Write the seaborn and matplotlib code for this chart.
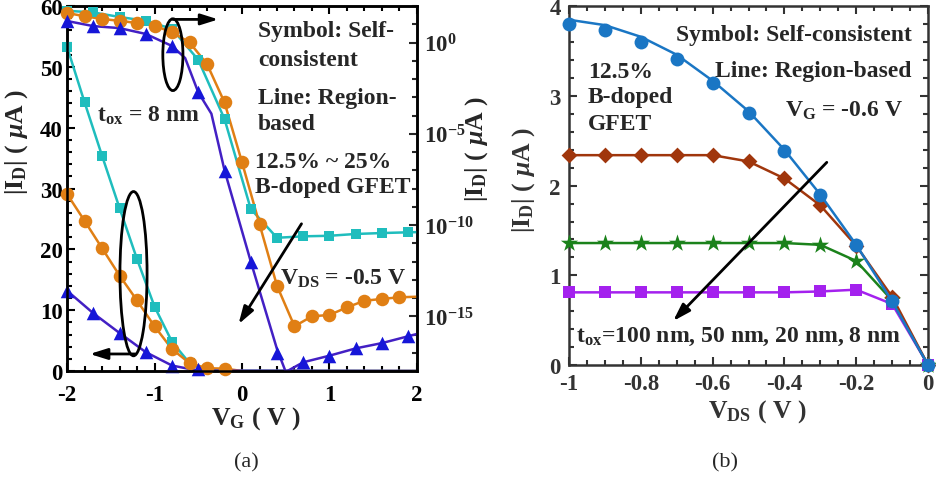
import numpy as np
import matplotlib
matplotlib.use('Agg')
import matplotlib.pyplot as plt
import seaborn as sns
from matplotlib.patches import Ellipse
from matplotlib.ticker import MultipleLocator, FixedLocator, FuncFormatter, NullFormatter

# ── (a) V_G sweep, V_DS = -0.5 V ──────────────────────────────
# linear scale (left axis, uA)
vg_cyan_lin = [-2.0, -1.8, -1.6, -1.4, -1.2, -1.0, -0.8, -0.6]
id_cyan_lin = [53.3, 44.2, 35.4, 26.8, 18.4, 10.6, 4.8, 1.3]
vg_cyan_lin_line = [-2.0, -1.8, -1.6, -1.4, -1.2, -1.0, -0.8, -0.6, -0.4, -0.2, 2.0]
id_cyan_lin_line = [53.3, 44.2, 35.4, 26.8, 18.4, 10.6, 4.8, 1.3, 0.3, 0.05, 0.0]

vg_orange_lin = [-2.0, -1.8, -1.6, -1.4, -1.2, -1.0, -0.8, -0.6, -0.4, -0.2]
id_orange_lin = [29.1, 24.7, 20.2, 15.7, 11.6, 7.35, 3.6, 1.3, 0.45, 0.4]
vg_orange_lin_line = [-2.0, -1.8, -1.6, -1.4, -1.2, -1.0, -0.8, -0.6, -0.4, -0.2, 0.0, 2.0]
id_orange_lin_line = [29.1, 24.7, 20.2, 15.7, 11.6, 7.35, 3.6, 1.3, 0.45, 0.4, 0.0, 0.0]

vg_blue_lin = [-2.0, -1.7, -1.4, -1.1, -0.8, -0.5]
id_blue_lin = [13.2, 9.5, 6.25, 3.1, 0.9, 0.3]
vg_blue_lin_line = [-2.0, -1.7, -1.4, -1.1, -0.8, -0.5, 2.0]
id_blue_lin_line = [13.2, 9.5, 6.25, 3.1, 0.9, 0.05, 0.0]

# log scale (right axis), values given as log10(|I_D| / uA)
vg_log = [-2.0, -1.7, -1.4, -1.1, -0.8, -0.5, -0.2, 0.1, 0.4, 0.7, 1.0, 1.3, 1.6, 1.9]
cyan_log_exp = [1.74, 1.65, 1.40, 1.19, 0.75, -0.95, -4.19, -9.12, -10.70, -10.62,
                -10.59, -10.49, -10.44, -10.40]
blue_log_exp = [1.18, 0.90, 0.79, 0.47, -0.19, -2.73, -7.04, -12.0, -17.0, -17.52,
                -17.16, -16.76, -16.47, -16.07]
vg_cyan_log_line = vg_log + [2.0]
cyan_log_line_exp = cyan_log_exp + [-10.39]
vg_blue_log_line = [-2.0, -1.7, -1.4, -1.1, -0.8, -0.65, -0.5, -0.35, -0.2, 0.1, 0.4,
                    0.5, 0.7, 1.0, 1.3, 1.6, 2.0]
blue_log_line_exp = [1.18, 0.90, 0.79, 0.47, -0.19, -0.85, -2.73, -3.9, -7.0, -12.0,
                     -16.8, -18.05, -17.52, -17.16, -16.76, -16.47, -15.97]

vg_orange_log = [-2.0, -1.8, -1.6, -1.4, -1.2, -1.0, -0.8, -0.6, -0.4, -0.2,
                 0.0, 0.2, 0.4, 0.6, 0.8, 1.0, 1.2, 1.4, 1.6, 1.8]
orange_log_exp = [1.62, 1.44, 1.29, 1.19, 1.07, 0.92, 0.56, 0.01, -1.18, -3.28,
                  -6.56, -9.95, -13.33, -15.55, -15.0, -14.93, -14.51, -14.15, -14.05, -13.96]
vg_orange_log_line = vg_orange_log + [2.0]
orange_log_line_exp = orange_log_exp + [-13.93]

# ── (b) V_DS sweep, V_G = -0.6 V ──────────────────────────────
vds = [-1.0, -0.9, -0.8, -0.7, -0.6, -0.5, -0.4, -0.3, -0.2, -0.1, 0.0]
id_8nm = [3.80, 3.74, 3.60, 3.41, 3.14, 2.81, 2.39, 1.90, 1.34, 0.71, 0.0]
id_8nm_line = [3.85, 3.79, 3.66, 3.46, 3.17, 2.83, 2.40, 1.90, 1.34, 0.71, 0.0]
id_20nm = [2.34, 2.34, 2.34, 2.34, 2.34, 2.27, 2.08, 1.78, 1.33, 0.76, 0.0]
id_50nm = [1.36, 1.36, 1.36, 1.36, 1.36, 1.36, 1.36, 1.34, 1.16, 0.72, 0.0]
id_100nm = [0.81, 0.81, 0.81, 0.81, 0.81, 0.81, 0.81, 0.82, 0.84, 0.68, 0.0]

C_CYAN = '#1fbdbd'
C_ORANGE = '#e07f14'
C_BLUE_M = '#1616d8'
C_BLUE_L = '#4320c4'
C_B_BLUE = '#1a76c4'
C_B_BROWN = '#a0360c'
C_B_GREEN = '#1b821b'
C_B_PURPLE = '#a421ee'

sns.set_theme(style='ticks')
plt.rcParams['font.family'] = ['Liberation Serif', 'DejaVu Serif']
plt.rcParams['font.weight'] = 'bold'
plt.rcParams['mathtext.fontset'] = 'custom'
plt.rcParams['mathtext.rm'] = 'Liberation Serif:bold'
plt.rcParams['mathtext.bf'] = 'Liberation Serif:bold'
plt.rcParams['mathtext.it'] = 'Liberation Serif:italic'
plt.rcParams['axes.unicode_minus'] = False

FS_TXT = 17
FS_LAB = 18.5
FS_TICK = 16.5
YLABEL = r'$|\mathrm{I}_{\mathrm{D}}|\ \mathrm{(}\ \mu\mathrm{A}\ \mathrm{)}$'
XLABEL_A = r'$\mathrm{V}_{\mathrm{G}}\ \mathrm{(}\ \mathrm{V}\ \mathrm{)}$'
XLABEL_B = r'$\mathrm{V}_{\mathrm{DS}}\ \mathrm{(}\ \mathrm{V}\ \mathrm{)}$'


def line(ax, x, y, color, lw=1.8, z=2):
    sns.lineplot(x=x, y=y, ax=ax, color=color, lw=lw, zorder=z,
                 legend=False, sort=False, errorbar=None)


def marks(ax, x, y, color, marker, s, z=3):
    sns.scatterplot(x=x, y=y, ax=ax, color=color, marker=marker, s=s,
                    linewidth=0, zorder=z, legend=False, clip_on=False)


fig = plt.figure(figsize=(9.36, 4.81), dpi=100)
ax = fig.add_axes([0.0716, 0.2266, 0.3739, 0.7588])
ax2 = ax.twinx()
axb = fig.add_axes([0.6079, 0.2391, 0.3836, 0.7457])

# ── panel (a) ─────────────────────────────────────────────────
ax2.set_yscale('log')

line(ax, vg_cyan_lin_line, id_cyan_lin_line, C_CYAN)
marks(ax, vg_cyan_lin, id_cyan_lin, C_CYAN, 's', 50)
line(ax, vg_orange_lin_line, id_orange_lin_line, C_ORANGE)
marks(ax, vg_orange_lin, id_orange_lin, C_ORANGE, 'o', 95)
line(ax, vg_blue_lin_line, id_blue_lin_line, C_BLUE_L)
marks(ax, vg_blue_lin, id_blue_lin, C_BLUE_M, '^', 95)

line(ax2, vg_cyan_log_line, 10.0 ** np.array(cyan_log_line_exp), C_CYAN)
marks(ax2, vg_log, 10.0 ** np.array(cyan_log_exp), C_CYAN, 's', 50)
line(ax2, vg_orange_log_line, 10.0 ** np.array(orange_log_line_exp), C_ORANGE)
marks(ax2, vg_orange_log, 10.0 ** np.array(orange_log_exp), C_ORANGE, 'o', 95)
line(ax2, vg_blue_log_line, 10.0 ** np.array(blue_log_line_exp), C_BLUE_L)
marks(ax2, vg_log, 10.0 ** np.array(blue_log_exp), C_BLUE_M, '^', 95)

# ellipses + arrows (drawn in left-axis data coords, on top)
for (cx, cy, w, h) in [(-0.79, 52.0, 0.23, 11.8), (-1.24, 16.0, 0.31, 27.0)]:
    e = Ellipse((cx, cy), w, h, transform=ax.transData, fill=False,
                ec='black', lw=2.0, zorder=6)
    ax2.add_patch(e)

arrow = dict(arrowstyle='-|>,head_length=0.7,head_width=0.22', color='black',
             lw=2.0, shrinkA=0, shrinkB=0, mutation_scale=15)
for start, tip in [((-0.79, 57.8), (-0.27, 57.8)),
                   ((-1.22, 2.8), (-1.74, 2.8)),
                   ((0.68, 24.2), (-0.04, 7.7))]:
    ax2.annotate('', xy=tip, xytext=start, xycoords=ax.transData,
                 textcoords=ax.transData, arrowprops=arrow, zorder=6)

txt_a = [(0.18, 55.0, 'Symbol: Self-'), (0.18, 50.3, 'consistent'),
         (0.18, 44.1, 'Line: Region-'), (0.18, 39.8, 'based'),
         (0.15, 33.6, '12.5% ~ 25%'), (0.15, 29.4, 'B-doped GFET'),
         (-1.66, 41.1, r'$\mathrm{t}_{\mathrm{ox}}$ = 8 nm'),
         (0.43, 14.3, r'$\mathrm{V}_{\mathrm{DS}}$ = -0.5 V')]
for x, y, s in txt_a:
    ax2.text(x, y, s, transform=ax.transData, fontsize=FS_TXT,
             ha='left', va='baseline', zorder=7)

ax.set_xlim(-2, 2)
ax.set_ylim(0, 60)
ax2.set_ylim(1e-18, 1e2)
ax.xaxis.set_major_locator(MultipleLocator(1))
ax.xaxis.set_minor_locator(MultipleLocator(0.2))
ax.yaxis.set_major_locator(MultipleLocator(10))
ax.yaxis.set_minor_locator(MultipleLocator(2))
ax.xaxis.set_major_formatter(FuncFormatter(lambda v, p: f'{round(v, 2) + 0:g}'))
ax2.yaxis.set_major_locator(FixedLocator([1e-15, 1e-10, 1e-5, 1e0]))
ax2.yaxis.set_minor_locator(FixedLocator([10.0 ** k for k in range(-18, 3)]))
ax2.yaxis.set_major_formatter(FuncFormatter(lambda v, p: r'$10^{%d}$' % round(np.log10(v))))
ax2.yaxis.set_minor_formatter(NullFormatter())

ax.tick_params(which='both', direction='in', top=True, right=False, width=1.5,
               labelsize=FS_TICK, colors='black')
ax.tick_params(which='major', length=6)
ax.tick_params(which='minor', length=3.5)
ax.tick_params(axis='x', pad=9)
ax.tick_params(axis='y', pad=3)
ax2.tick_params(which='both', direction='in', width=1.5, labelsize=FS_TICK, pad=5)
ax2.tick_params(which='major', length=6)
ax2.tick_params(which='minor', length=3.5)
for a in (ax, ax2):
    for sp in a.spines.values():
        sp.set_linewidth(1.8)
        sp.set_color('black')

ax.set_xlabel(XLABEL_A, fontsize=FS_LAB)
ax.xaxis.set_label_coords(0.54, -0.092)
ax.set_ylabel(YLABEL, fontsize=FS_LAB)
ax.yaxis.set_label_coords(-0.106, 0.63)
ax2.set_ylabel(YLABEL, fontsize=FS_LAB)
ax2.yaxis.set_label_coords(1.131, 0.61)

# ── panel (b) ─────────────────────────────────────────────────
line(axb, vds, id_100nm, C_B_PURPLE, z=2)
marks(axb, vds, id_100nm, C_B_PURPLE, 's', 80, z=3)
line(axb, vds, id_50nm, C_B_GREEN, z=4)
marks(axb, vds, id_50nm, C_B_GREEN, '*', 170, z=5)
line(axb, vds, id_20nm, C_B_BROWN, z=6)
marks(axb, vds, id_20nm, C_B_BROWN, 'D', 65, z=7)
line(axb, vds, id_8nm_line, C_B_BLUE, z=8)
marks(axb, vds, id_8nm, C_B_BLUE, 'o', 100, z=9)

axb.annotate('', xy=(-0.71, 0.49), xytext=(-0.282, 2.26), arrowprops=arrow, zorder=10)

txt_b = [(-0.045, 3.62, 'Symbol: Self-consistent', 'right'),
         (-0.045, 3.22, 'Line: Region-based', 'right'),
         (-0.398, 2.78, r'$\mathrm{V}_{\mathrm{G}}$ = -0.6 V', 'left'),
         (-0.947, 3.21, '12.5%', 'left'),
         (-0.947, 2.93, 'B-doped', 'left'),
         (-0.947, 2.63, 'GFET', 'left'),
         (-0.980, 0.268, r'$\mathrm{t}_{\mathrm{ox}}$=100 nm, 50 nm, 20 nm, 8 nm', 'left')]
for x, y, s, ha in txt_b:
    axb.text(x, y, s, fontsize=FS_TXT, ha=ha, va='baseline', zorder=11)

axb.set_xlim(-1, 0)
axb.set_ylim(0, 4)
axb.xaxis.set_major_locator(MultipleLocator(0.2))
axb.xaxis.set_minor_locator(MultipleLocator(0.05))
axb.yaxis.set_major_locator(MultipleLocator(1))
axb.yaxis.set_minor_locator(MultipleLocator(0.2))
axb.xaxis.set_major_formatter(FuncFormatter(lambda v, p: f'{round(v, 2) + 0:g}'))
axb.tick_params(which='both', direction='in', top=True, right=True, width=1.5,
                labelsize=FS_TICK, colors='#333333')
axb.tick_params(which='major', length=6)
axb.tick_params(which='minor', length=3.5)
axb.tick_params(axis='x', pad=6)
axb.tick_params(axis='y', pad=6)
for sp in axb.spines.values():
    sp.set_linewidth(1.8)
    sp.set_color('#333333')

axb.set_xlabel(XLABEL_B, fontsize=FS_LAB, color='#333333')
axb.xaxis.set_label_coords(0.524, -0.089)
axb.set_ylabel(YLABEL, fontsize=FS_LAB, color='#333333')
axb.yaxis.set_label_coords(-0.089, 0.518)

fig.text(246 / 936, 0.0374, '(a)', ha='center', va='center', fontsize=16, fontweight='normal')
fig.text(725 / 936, 0.0374, '(b)', ha='center', va='center', fontsize=16, fontweight='normal')

fig.savefig('out.png', dpi=100)
plt.close(fig)
